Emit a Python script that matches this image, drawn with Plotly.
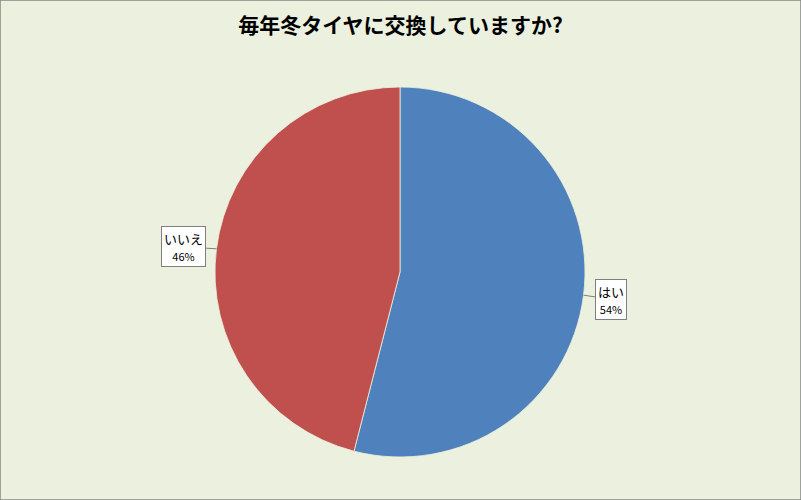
import math
import plotly.graph_objects as go

categories = ["はい", "いいえ"]
values = [54, 46]
colors = ["#4F81BD", "#C0504D"]
title_text = "毎年冬タイヤに交換していますか?"

W, H = 801, 500
cx, cy, r = 400, 272, 185

fig = go.Figure(go.Pie(
    labels=categories, values=values, sort=False, direction="clockwise", rotation=0,
    marker=dict(colors=colors, line=dict(color="#EBF1DE", width=0.8)),
    textinfo="none", hoverinfo="label+percent", showlegend=False,
    domain=dict(x=[(cx - r) / W, (cx + r) / W], y=[(H - cy - r) / H, (H - cy + r) / H]),
))

total = sum(values)
offsets = {"はい": (27, 4), "いいえ": (-33, -2)}
cum = 0
for lab, v in zip(categories, values):
    mid = (cum + v / 2) / total * 2 * math.pi
    cum += v
    tx = cx + r * math.sin(mid)
    ty = cy - r * math.cos(mid)
    pct = round(v / total * 100)
    ax, ay = offsets[lab]
    fig.add_annotation(
        x=tx / W, y=1 - ty / H, xref="paper", yref="paper",
        text=f"{lab}<br><span style='font-size:11px'>{pct}%</span>",
        showarrow=True, arrowhead=0, arrowcolor="#7F7F7F", arrowwidth=1,
        ax=ax, ay=ay, bgcolor="white", bordercolor="#7F7F7F", borderwidth=1,
        borderpad=2, font=dict(size=13, color="black", family="Noto Sans CJK JP"),
        align="center",
    )

fig.update_layout(
    width=W, height=H, margin=dict(l=0, r=0, t=0, b=0),
    paper_bgcolor="#EBF1DE", plot_bgcolor="#EBF1DE",
    title=dict(text=f"<b>{title_text}</b>", x=0.5, xanchor="center", y=1 - 26 / H, yanchor="middle",
               font=dict(size=21, color="black", family="Noto Sans CJK JP")),
    shapes=[dict(type="rect", xref="paper", yref="paper", x0=0, y0=0, x1=1, y1=1,
                 line=dict(color="#868686", width=1.5))],
)

fig.write_html("out.html", config={"displayModeBar": False},
               post_script="document.body.style.margin='0';document.body.style.overflow='hidden';")
